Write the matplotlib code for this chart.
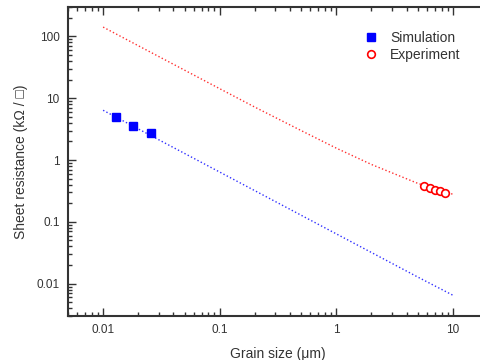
import numpy as np
import matplotlib.pyplot as plt

plt.rcParams['font.family'] = ['Liberation Sans', 'DejaVu Sans']

# fitted curves
fit_x = [0.01, 0.02, 0.05, 0.1, 0.2, 0.5, 1, 2, 5, 10]
fit_exp = [142, 71, 28.5, 14.3, 7.2, 3.0, 1.56, 0.85, 0.42, 0.28]
fit_sim = [6.4, 3.2, 1.28, 0.64, 0.32, 0.128, 0.064, 0.032, 0.0128, 0.0065]

sim_x = [0.013, 0.018, 0.0255]
sim_y = [4.9, 3.6, 2.7]

exp_x = [5.64, 6.3, 6.97, 7.73, 8.6]
exp_y = [0.379, 0.356, 0.330, 0.315, 0.295]

fig = plt.figure(figsize=(4.81, 3.6), dpi=100)
ax = fig.add_axes([68/481, 1 - 316/360, 420/481, 309/360])

ax.plot(fit_x, fit_exp, ':', color='#ff3030', lw=1)
ax.plot(fit_x, fit_sim, ':', color='#3030ff', lw=1)
ax.plot(sim_x, sim_y, 's', color='#0000ff', ms=5.5, label='Simulation')
ax.plot(exp_x, exp_y, 'o', mfc='white', mec='#ff0000', mew=1.2, ms=5.5, label='Experiment')

ax.set_xscale('log')
ax.set_yscale('log')
ax.set_xlim(0.005, 20)
ax.set_ylim(0.003, 300)
ax.set_xticks([0.01, 0.1, 1, 10])
ax.set_xticklabels(['0.01', '0.1', '1', '10'])
ax.set_yticks([0.01, 0.1, 1, 10, 100])
ax.set_yticklabels(['0.01', '0.1', '1', '10', '100'])

for s in ax.spines.values():
    s.set_linewidth(1.5)
    s.set_color('#333333')
ax.tick_params(which='both', direction='in', top=True, right=True,
               colors='#333333', labelsize=8.5, width=1)
ax.tick_params(which='major', length=6, pad=6)
ax.tick_params(which='minor', length=3)

ax.set_xlabel('Grain size (μm)', fontsize=10, color='#333333', labelpad=8)
ax.set_ylabel('Sheet resistance (kΩ / □)', fontsize=10, color='#333333', labelpad=6)

ax.legend(loc='upper right', bbox_to_anchor=(473/481, 1 - 18/360),
          bbox_transform=fig.transFigure, frameon=False, fontsize=10,
          handletextpad=0.8, labelspacing=0.25, handlelength=1.2,
          labelcolor='#333333')

fig.savefig('out.png', dpi=100)
